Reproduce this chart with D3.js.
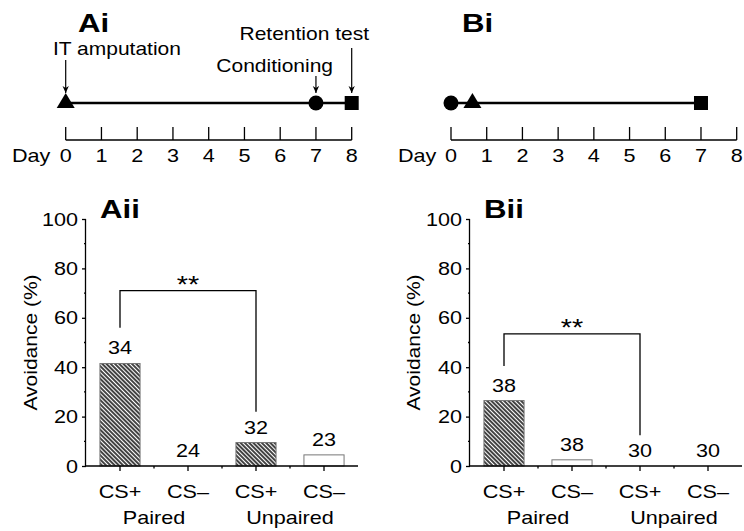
<!DOCTYPE html>
<html>
<head>
<meta charset="utf-8">
<script src="https://cdn.jsdelivr.net/npm/d3@7"></script>
<style>
  body { margin: 0; background: #fff; }
  svg { display: block; }
</style>
</head>
<body>
<div id="chart"></div>
<script>
// timeline data (days)
const dayTicks = [0, 1, 2, 3, 4, 5, 6, 7, 8];
const eventNames = ["IT amputation", "Conditioning", "Retention test"];
const eventShapes = ["triangle", "circle", "square"];
const eventDaysA = [0, 7, 8];
const eventDaysB = [0.6, 0, 7];

// bar data
const categories = ["CS+", "CS–", "CS+", "CS–"];
const groups = ["Paired", "Unpaired"];
const hatched = [true, false, true, false];
const avoidanceA = [41.5, 0, 9.5, 4.5];
const nA = [34, 24, 32, 23];
const avoidanceB = [26.5, 2.5, 0, 0];
const nB = [38, 38, 30, 30];
// significance brackets: [top, left leg end, right leg end] in %
const bracketA = [71, 56, 22];
const bracketB = [53.5, 40.5, 12.5];
const yTicks = [0, 20, 40, 60, 80, 100];

const FONT = "'Liberation Sans', Arial, Helvetica, sans-serif";
const SX = 1.2; // the figure text is a bit stretched sideways

const svg = d3.select("#chart").append("svg")
    .attr("width", 744)
    .attr("height", 531)
    .style("font-family", FONT);

// hatch pattern
svg.append("defs").append("pattern")
    .attr("id", "hatch")
    .attr("patternUnits", "userSpaceOnUse")
    .attr("width", 3)
    .attr("height", 3)
    .attr("patternTransform", "rotate(-45)")
    .call(p => p.append("rect").attr("width", 3).attr("height", 3).attr("fill", "#fff"))
    .append("line")
    .attr("x1", 1).attr("y1", 0).attr("x2", 1).attr("y2", 3)
    .attr("stroke", "#222")
    .attr("stroke-width", 1.7);

// arrow head (narrow filled)
svg.select("defs").append("marker")
    .attr("id", "arrow")
    .attr("viewBox", "0 0 10 10")
    .attr("refX", 10).attr("refY", 5)
    .attr("markerWidth", 8).attr("markerHeight", 7)
    .attr("markerUnits", "userSpaceOnUse")
    .attr("orient", "auto")
    .append("path")
    .attr("d", "M0,0.5 L10,5 L0,9.5 L3,5Z")
    .attr("fill", "#000");

// text helper, stretched horizontally around its anchor
function txt(g, x, y, s, size, anchor, weight, rot) {
    return g.append("text")
        .attr("transform", `translate(${x},${y})${rot ? ` rotate(${rot})` : ""} scale(${SX},1)`)
        .attr("text-anchor", anchor || "middle")
        .style("font-size", size + "px")
        .style("font-weight", weight || "normal")
        .text(s);
}

// ---------- timelines ----------
function timeline(x0, x1, days, label, labelX, dayX, withText) {
    const g = svg.append("g");
    const x = d3.scaleLinear().domain([0, 8]).range([x0, x1]);
    const axisY = 140, lineY = 103;

    txt(g, labelX, 32, label, 26, "start", "bold");

    // day axis, ticks point up
    g.append("line")
        .attr("x1", x(0)).attr("x2", x(8))
        .attr("y1", axisY).attr("y2", axisY)
        .attr("stroke", "#000").attr("stroke-width", 1.3);
    g.selectAll(".dt").data(dayTicks).join("line")
        .attr("x1", d => x(d)).attr("x2", d => x(d))
        .attr("y1", axisY).attr("y2", axisY - 13)
        .attr("stroke", "#000").attr("stroke-width", 1.3);
    dayTicks.forEach(d => txt(g, x(d), 162, d, 18));
    txt(g, dayX, 162, "Day", 18, "start");

    // protocol line
    g.append("line")
        .attr("x1", x(d3.min(days))).attr("x2", x(d3.max(days)))
        .attr("y1", lineY).attr("y2", lineY)
        .attr("stroke", "#000").attr("stroke-width", 2.6);

    days.forEach((d, i) => {
        const cx = x(d);
        const shape = eventShapes[i];
        if (shape === "triangle") {
            g.append("path")
                .attr("d", `M${cx},${lineY - 10} L${cx + 9},${lineY + 5} L${cx - 9},${lineY + 5}Z`)
                .attr("fill", "#000");
        } else if (shape === "circle") {
            g.append("circle").attr("cx", cx).attr("cy", lineY).attr("r", 7.5).attr("fill", "#000");
        } else {
            g.append("rect").attr("x", cx - 7).attr("y", lineY - 7)
                .attr("width", 14).attr("height", 14).attr("fill", "#000");
        }
    });

    if (withText) {
        const arrowTop = [60, 76, 48];
        const textPos = [[53, 55, "start"], [333, 72, "end"], [369, 40, "end"]];
        days.forEach((d, i) => {
            g.append("line")
                .attr("x1", x(d)).attr("x2", x(d))
                .attr("y1", arrowTop[i]).attr("y2", lineY - 10)
                .attr("stroke", "#000").attr("stroke-width", 1.2)
                .attr("marker-end", "url(#arrow)");
            txt(g, textPos[i][0], textPos[i][1], eventNames[i], 17.5, textPos[i][2]);
        });
    }
}

timeline(65.7, 351.7, eventDaysA, "Ai", 78, 12, true);
timeline(451, 736.7, eventDaysB, "Bi", 462, 398, false);

// ---------- bar charts ----------
function barChart(left, right, values, ns, bracket, label, ylabelX) {
    const g = svg.append("g");
    const y = d3.scaleLinear().domain([0, 100]).range([466, 219]);
    const x = d3.scaleBand().domain(d3.range(categories.length))
        .range([left, right]).paddingInner(0.41).paddingOuter(0.205);
    const cx = i => x(i) + x.bandwidth() / 2;

    txt(g, left + 14, 218, label, 26, "start", "bold");

    // bars
    g.selectAll(".bar").data(values).join("rect")
        .attr("x", (d, i) => x(i))
        .attr("y", d => y(d))
        .attr("width", x.bandwidth())
        .attr("height", d => y(0) - y(d))
        .attr("fill", (d, i) => hatched[i] ? "url(#hatch)" : "#fff")
        .attr("stroke", d => d > 0 ? "#777" : "none")
        .attr("stroke-width", 1);

    // n labels
    values.forEach((v, i) => txt(g, cx(i), y(v) - 9, ns[i], 18));

    // y axis
    const yAxis = g.append("g")
        .attr("transform", `translate(${left},0)`)
        .call(d3.axisLeft(y).tickValues(yTicks).tickSize(4).tickFormat(""));
    yAxis.select(".domain").attr("stroke-width", 1.3).attr("d", `M-0.5,${y(0)}V${y(100)}`);
    yAxis.selectAll(".tick line").attr("stroke-width", 1.3);
    yTicks.forEach(t => txt(g, left - 8, y(t) + 6.5, t, 18, "end"));
    g.selectAll(".ym").data(d3.range(10, 100, 20)).join("line")
        .attr("x1", left - 2).attr("x2", left)
        .attr("y1", d => y(d)).attr("y2", d => y(d))
        .attr("stroke", "#000").attr("stroke-width", 1.3);

    txt(g, ylabelX, (y(0) + y(100)) / 2, "Avoidance (%)", 17.5, "middle", "normal", -90);

    // x axis
    g.append("line")
        .attr("x1", left - 1).attr("x2", right)
        .attr("y1", y(0)).attr("y2", y(0))
        .attr("stroke", "#000").attr("stroke-width", 1.5);
    g.selectAll(".xt").data(d3.range(categories.length)).join("line")
        .attr("x1", cx).attr("x2", cx)
        .attr("y1", y(0)).attr("y2", y(0) + 5)
        .attr("stroke", "#000").attr("stroke-width", 1.3);
    g.selectAll(".xm").data(d3.range(1, categories.length)).join("line")
        .attr("x1", d => x(d) - x.step() * 0.205).attr("x2", d => x(d) - x.step() * 0.205)
        .attr("y1", y(0)).attr("y2", y(0) + 2.5)
        .attr("stroke", "#000").attr("stroke-width", 1.3);
    categories.forEach((c, i) => txt(g, cx(i), 498, c, 18));
    groups.forEach((gr, j) => txt(g, (cx(2 * j) + cx(2 * j + 1)) / 2, 524, gr, 18));

    // significance bracket
    const [top, l, r] = bracket;
    g.append("path")
        .attr("d", `M${cx(0)},${y(l)}V${y(top)}H${cx(2)}V${y(r)}`)
        .attr("fill", "none")
        .attr("stroke", "#000")
        .attr("stroke-width", 1.3);
    txt(g, (cx(0) + cx(2)) / 2, y(top) + 2, "**", 24);
}

barChart(86, 358, avoidanceA, nA, bracketA, "Aii", 37);
barChart(470, 742, avoidanceB, nB, bracketB, "Bii", 420);
</script>
</body>
</html>
